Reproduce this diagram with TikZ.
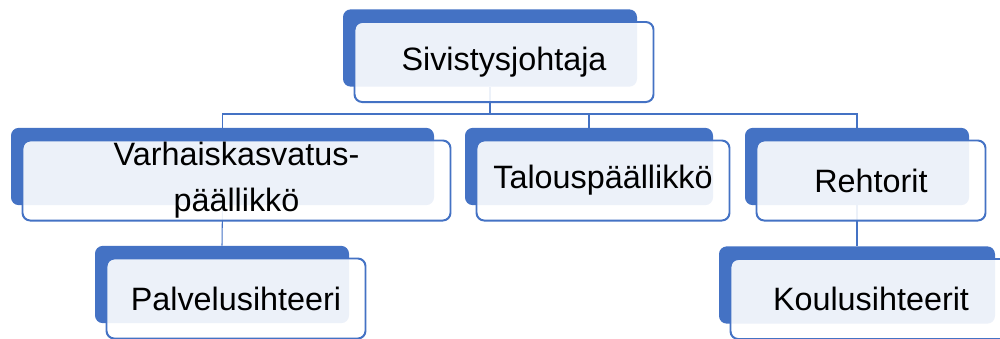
\documentclass[tikz,border=0pt]{standalone}
\usepackage{fontspec}
\setmainfont{Liberation Sans}
\usepackage{xcolor}
\usepackage{tikz}
\usetikzlibrary{calc}
\definecolor{orgblue}{HTML}{4472C4}

\begin{document}
\begin{tikzpicture}[x=0.025cm,y=-0.025cm]
\fontsize{23}{32.6}\selectfont
\tikzstyle{back}=[rectangle, rounded corners=5.5pt, fill=orgblue, inner sep=0pt, minimum height=1.93cm]
\tikzstyle{front}=[rectangle, rounded corners=5.5pt, draw=orgblue, line width=1.4pt, fill=white, fill opacity=0.9, text opacity=1, inner sep=0pt, minimum height=2cm, align=center]
\tikzstyle{link}=[draw=orgblue, line width=0.75pt]
\useasboundingbox (0,0) rectangle (1000,338);
\foreach \name/\x/\y/\w in {s/490/48/294, v/222.5/166.5/423, t/589/166.5/248, r/857/166.5/224, p/222/284.5/254, k/857/285/276}
    \node[back, minimum width=\w*0.025cm] (b\name) at (\x,\y) {};
\coordinate (bar) at (490,114);
\draw[link] (bs.south) -- (bar);
\foreach \name in {v,t,r}
    \draw[link] (bar) -| (b\name.north);
\draw[link] (bv.south) -- (bp.north);
\draw[link] (br.south) -- (bk.north);
\foreach \name/\w/\txt in {s/299/Sivistysjohtaja, v/428/{Varhaiskasvatus-\\päällikkö}, t/253/Talouspäällikkö, r/229/Rehtorit, p/259/Palvelusihteeri, k/281/Koulusihteerit}
    \node[front, minimum width=\w*0.025cm] (f\name) at ($(b\name)+(14,14)$) {\txt};
\end{tikzpicture}
\end{document}
